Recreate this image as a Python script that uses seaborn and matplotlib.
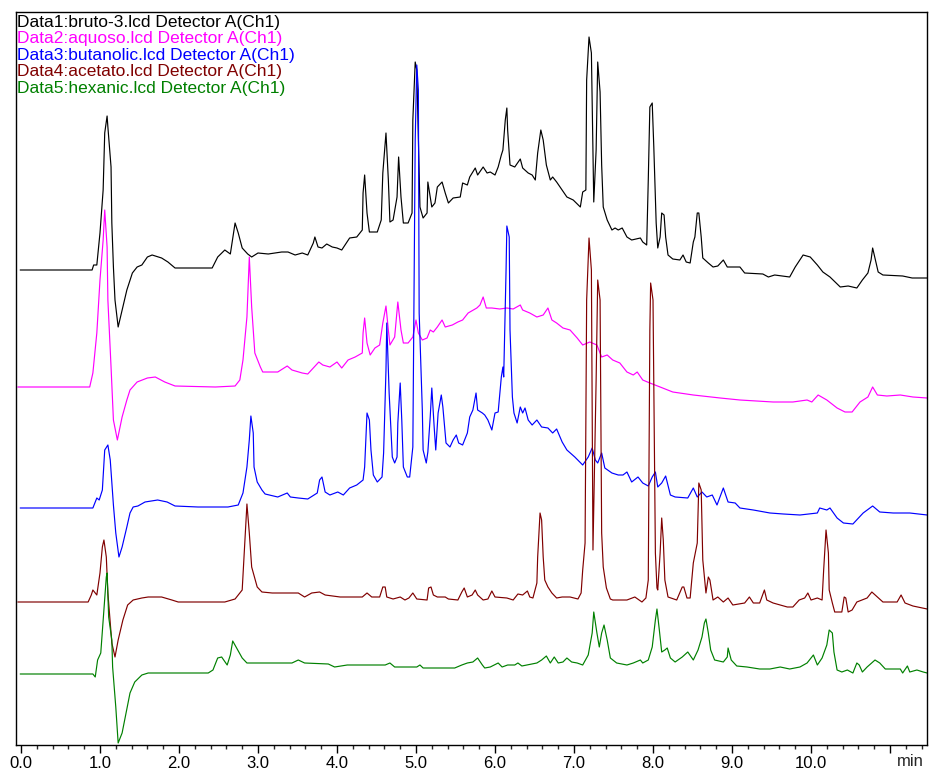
import matplotlib
matplotlib.use("Agg")
import matplotlib.pyplot as plt
import seaborn as sns
import pandas as pd

# ---- data: retention time (min) and detector response (arbitrary units, stacked) ----
t_bruto = [-0.01, 0.90, 0.92, 0.96, 1.00, 1.04, 1.06, 1.09, 1.10, 1.14, 1.15, 1.17, 1.19, 1.23, 1.28, 1.34, 1.41,
           1.47, 1.53, 1.60, 1.66, 1.78, 1.86, 1.95, 2.42, 2.49, 2.58, 2.65, 2.71, 2.75, 2.80, 2.87, 2.92, 3.00,
           3.13, 3.30, 3.38, 3.47, 3.56, 3.63, 3.70, 3.72, 3.76, 3.81, 3.87, 3.94, 4.00, 4.06, 4.16, 4.25, 4.32,
           4.33, 4.35, 4.38, 4.41, 4.51, 4.56, 4.58, 4.62, 4.65, 4.67, 4.71, 4.76, 4.78, 4.81, 4.84, 4.90, 4.95,
           4.96, 4.99, 5.01, 5.03, 5.05, 5.09, 5.14, 5.15, 5.18, 5.20, 5.24, 5.27, 5.33, 5.37, 5.41, 5.47, 5.56,
           5.59, 5.65, 5.68, 5.75, 5.78, 5.85, 5.90, 5.94, 6.00, 6.04, 6.08, 6.10, 6.13, 6.15, 6.16, 6.19, 6.25,
           6.32, 6.35, 6.42, 6.47, 6.51, 6.54, 6.58, 6.61, 6.65, 6.70, 6.73, 6.78, 6.85, 6.91, 6.99, 7.08, 7.11,
           7.15, 7.16, 7.19, 7.22, 7.24, 7.25, 7.28, 7.30, 7.33, 7.35, 7.37, 7.42, 7.48, 7.52, 7.56, 7.61, 7.67,
           7.73, 7.84, 7.87, 7.92, 7.94, 7.96, 7.99, 8.01, 8.04, 8.06, 8.09, 8.11, 8.14, 8.16, 8.19, 8.25, 8.34,
           8.38, 8.42, 8.47, 8.51, 8.53, 8.56, 8.58, 8.61, 8.63, 8.70, 8.76, 8.82, 8.89, 8.94, 9.10, 9.16, 9.39,
           9.46, 9.54, 9.73, 9.80, 9.90, 9.99, 10.08, 10.15, 10.24, 10.37, 10.47, 10.58, 10.65, 10.72, 10.76,
           10.78, 10.82, 10.85, 10.91, 11.16, 11.28, 11.47]
h_bruto = [475, 475, 480, 480, 512, 555, 612, 629, 618, 578, 522, 478, 445, 418, 435, 455, 472,
           478, 480, 488, 490, 487, 483, 477, 477, 488, 495, 491, 522, 512, 497, 491, 488, 492,
           491, 493, 493, 490, 492, 490, 502, 508, 498, 497, 501, 498, 497, 495, 507, 508, 515,
           552, 570, 532, 513, 513, 525, 572, 612, 565, 523, 525, 548, 588, 548, 522, 522, 532,
           625, 683, 675, 605, 538, 527, 532, 563, 548, 538, 542, 558, 563, 552, 542, 547, 548,
           562, 560, 568, 577, 570, 578, 572, 573, 570, 578, 590, 595, 625, 637, 615, 580, 578,
           586, 577, 572, 570, 565, 592, 615, 605, 580, 565, 568, 563, 555, 548, 545, 538, 553,
           555, 665, 708, 692, 595, 543, 595, 683, 653, 580, 538, 525, 515, 517, 515, 517, 508,
           505, 507, 503, 500, 565, 638, 642, 598, 522, 497, 508, 532, 530, 508, 490, 486, 485,
           490, 483, 482, 503, 508, 532, 532, 508, 487, 482, 478, 479, 485, 478, 478, 472, 471,
           468, 470, 468, 478, 490, 488, 480, 473, 468, 458, 459, 457, 465, 472, 485,
           497, 483, 473, 470, 469, 467, 467]

t_aquoso = [-0.04, 0.87, 0.91, 0.96, 1.00, 1.04, 1.06, 1.09, 1.10, 1.14, 1.17, 1.22, 1.28, 1.34, 1.38, 1.47, 1.60,
            1.70, 1.82, 1.95, 2.46, 2.71, 2.77, 2.81, 2.86, 2.89, 2.92, 2.96, 3.03, 3.06, 3.25, 3.37, 3.43, 3.56,
            3.63, 3.70, 3.77, 3.82, 3.91, 4.00, 4.06, 4.14, 4.23, 4.32, 4.33, 4.35, 4.38, 4.42, 4.48, 4.54, 4.58,
            4.62, 4.65, 4.67, 4.73, 4.77, 4.81, 4.84, 4.90, 4.96, 5.00, 5.03, 5.08, 5.14, 5.18, 5.22, 5.27, 5.33,
            5.37, 5.46, 5.53, 5.59, 5.66, 5.77, 5.81, 5.85, 5.89, 5.96, 6.06, 6.15, 6.23, 6.32, 6.35, 6.44, 6.53,
            6.61, 6.67, 6.72, 6.78, 6.86, 6.95, 7.04, 7.11, 7.20, 7.29, 7.35, 7.42, 7.49, 7.58, 7.67, 7.75, 7.80,
            7.87, 7.96, 8.09, 8.25, 8.51, 8.85, 9.10, 9.52, 9.77, 9.95, 10.01, 10.09, 10.20, 10.33, 10.43, 10.52,
            10.62, 10.72, 10.78, 10.84, 10.96, 11.13, 11.29, 11.47]
h_aquoso = [358, 358, 372, 412, 465, 505, 535, 498, 445, 378, 325, 305, 328, 345, 355, 363, 367,
            368, 363, 359, 358, 359, 365, 385, 428, 488, 438, 392, 378, 373, 373, 379, 375, 372,
            371, 377, 383, 380, 378, 383, 377, 385, 388, 392, 412, 427, 402, 390, 397, 400, 422,
            439, 415, 400, 408, 443, 415, 402, 402, 408, 425, 412, 405, 407, 415, 413, 418, 425,
            418, 420, 423, 425, 432, 437, 440, 448, 437, 437, 436, 437, 436, 440, 435, 432, 428,
            430, 437, 425, 422, 417, 415, 407, 400, 403, 400, 388, 390, 385, 382, 373, 370, 373,
            365, 362, 358, 353, 350, 347, 345, 343, 343, 345, 343, 350, 345, 337, 333, 333,
            343, 348, 358, 350, 349, 350, 348, 347]

t_butanolic = [-0.01, 0.91, 0.96, 0.99, 1.03, 1.06, 1.10, 1.13, 1.15, 1.17, 1.20, 1.24, 1.28, 1.34, 1.38, 1.42, 1.48,
               1.57, 1.73, 1.85, 1.95, 2.24, 2.62, 2.75, 2.81, 2.86, 2.89, 2.91, 2.94, 2.95, 2.99, 3.05, 3.09,
               3.25, 3.37, 3.41, 3.51, 3.63, 3.75, 3.78, 3.81, 3.85, 3.91, 4.01, 4.08, 4.16, 4.25, 4.33, 4.35,
               4.38, 4.41, 4.43, 4.46, 4.51, 4.57, 4.59, 4.62, 4.63, 4.66, 4.70, 4.73, 4.76, 4.77, 4.80, 4.82,
               4.84, 4.89, 4.92, 4.96, 4.99, 5.01, 5.03, 5.04, 5.08, 5.09, 5.13, 5.15, 5.18, 5.20, 5.23, 5.25,
               5.28, 5.32, 5.34, 5.38, 5.43, 5.47, 5.51, 5.54, 5.59, 5.65, 5.68, 5.72, 5.76, 5.78, 5.84, 5.87,
               5.91, 5.96, 6.00, 6.04, 6.08, 6.10, 6.11, 6.14, 6.15, 6.18, 6.19, 6.22, 6.24, 6.28, 6.32, 6.35,
               6.38, 6.42, 6.47, 6.53, 6.59, 6.67, 6.73, 6.78, 6.85, 6.91, 7.01, 7.11, 7.18, 7.23, 7.27, 7.30,
               7.35, 7.39, 7.48, 7.56, 7.62, 7.67, 7.73, 7.81, 7.87, 7.94, 7.99, 8.03, 8.06, 8.11, 8.16, 8.22,
               8.28, 8.44, 8.51, 8.56, 8.62, 8.68, 8.75, 8.81, 8.89, 8.95, 9.04, 9.10, 9.27, 9.48, 9.65, 9.86,
               10.08, 10.11, 10.20, 10.24, 10.33, 10.41, 10.53, 10.66, 10.78, 10.87, 11.04, 11.25, 11.47]
h_butanolic = [237, 237, 247, 245, 255, 295, 300, 285, 262, 240, 212, 188, 198, 218, 232, 238, 239,
               243, 245, 243, 239, 238, 238, 240, 252, 278, 305, 329, 312, 278, 263, 255, 251,
               248, 252, 248, 247, 246, 252, 265, 268, 253, 250, 253, 250, 257, 260, 265, 278,
               332, 325, 295, 270, 263, 268, 292, 375, 422, 352, 288, 282, 288, 322, 362, 325,
               278, 268, 268, 298, 605, 680, 655, 432, 335, 295, 282, 293, 328, 357, 318, 295,
               332, 350, 338, 302, 298, 305, 310, 302, 300, 312, 328, 335, 352, 335, 332, 330,
               325, 315, 332, 333, 368, 378, 368, 475, 519, 508, 415, 348, 332, 322, 338, 332,
               337, 325, 320, 325, 318, 317, 312, 316, 303, 295, 288, 280, 288, 297, 285, 282,
               292, 277, 272, 270, 270, 273, 263, 268, 262, 259, 268, 273, 258, 262, 269, 250,
               248, 247, 257, 248, 253, 248, 250, 240, 257, 243, 242, 237, 235, 232, 231, 230,
               232, 237, 235, 237, 227, 222, 221, 232, 239, 233, 232, 232, 230]

t_acetato = [-0.04, 0.85, 0.89, 0.91, 0.96, 1.00, 1.03, 1.05, 1.08, 1.10, 1.11, 1.15, 1.19, 1.23, 1.29, 1.35, 1.42,
             1.53, 1.61, 1.78, 1.91, 1.99, 2.58, 2.71, 2.80, 2.84, 2.86, 2.89, 2.92, 2.99, 3.05, 3.18, 3.51,
             3.59, 3.68, 3.78, 3.85, 4.04, 4.32, 4.38, 4.44, 4.54, 4.58, 4.61, 4.63, 4.71, 4.80, 4.86, 4.91,
             4.96, 5.01, 5.14, 5.16, 5.19, 5.22, 5.27, 5.37, 5.41, 5.53, 5.58, 5.61, 5.65, 5.71, 5.75, 5.78,
             5.85, 5.91, 5.96, 6.00, 6.15, 6.23, 6.29, 6.35, 6.41, 6.44, 6.48, 6.53, 6.54, 6.57, 6.59, 6.61,
             6.63, 6.67, 6.72, 6.78, 6.85, 6.95, 7.05, 7.09, 7.11, 7.14, 7.16, 7.19, 7.22, 7.24, 7.28, 7.30,
             7.33, 7.35, 7.37, 7.41, 7.46, 7.49, 7.67, 7.77, 7.86, 7.91, 7.94, 7.96, 7.97, 8.00, 8.03, 8.05,
             8.06, 8.09, 8.11, 8.13, 8.15, 8.19, 8.30, 8.37, 8.39, 8.43, 8.47, 8.51, 8.56, 8.58, 8.61, 8.63,
             8.67, 8.70, 8.72, 8.76, 8.82, 8.89, 8.95, 9.01, 9.16, 9.22, 9.27, 9.35, 9.41, 9.44, 9.52, 9.70,
             9.77, 9.85, 9.92, 9.96, 10.00, 10.08, 10.14, 10.16, 10.19, 10.22, 10.23, 10.27, 10.30, 10.39,
             10.42, 10.44, 10.47, 10.52, 10.58, 10.71, 10.77, 10.84, 10.91, 11.09, 11.14, 11.19, 11.29, 11.47]
h_acetato = [143, 143, 150, 155, 150, 172, 198, 205, 188, 152, 142, 102, 88, 105, 125, 140, 145,
             147, 148, 148, 145, 143, 143, 146, 155, 212, 241, 212, 178, 158, 153, 152, 152,
             148, 152, 153, 150, 148, 148, 152, 148, 148, 158, 158, 148, 146, 148, 145, 147,
             152, 146, 145, 157, 158, 150, 148, 148, 146, 145, 153, 157, 148, 150, 155, 150,
             145, 146, 154, 148, 147, 145, 151, 150, 154, 148, 147, 162, 188, 232, 225, 188,
             165, 158, 152, 147, 148, 148, 146, 152, 175, 202, 445, 507, 475, 195, 365, 465,
             445, 212, 178, 157, 146, 145, 145, 148, 143, 147, 165, 415, 462, 445, 192, 157,
             155, 192, 227, 205, 165, 148, 145, 158, 158, 147, 147, 182, 202, 262, 255, 185,
             152, 168, 165, 145, 148, 143, 147, 140, 142, 148, 142, 142, 155, 145, 142, 138,
             138, 145, 147, 152, 145, 147, 145, 175, 215, 192, 155, 142, 133, 133,
             148, 147, 133, 135, 143, 147, 153, 148, 143, 143, 150, 142, 139, 136]

t_hexanic = [-0.01, 0.91, 0.94, 0.97, 1.01, 1.04, 1.08, 1.09, 1.11, 1.15, 1.16, 1.20, 1.23, 1.28, 1.33, 1.38, 1.44,
             1.53, 1.61, 2.37, 2.43, 2.49, 2.54, 2.61, 2.65, 2.68, 2.73, 2.80, 2.86, 3.43, 3.51, 3.59, 3.89,
             3.97, 4.13, 4.61, 4.67, 4.73, 5.01, 5.05, 5.09, 5.34, 5.49, 5.58, 5.65, 5.72, 5.78, 5.84, 5.87,
             5.94, 6.04, 6.09, 6.16, 6.25, 6.29, 6.34, 6.53, 6.59, 6.65, 6.70, 6.75, 6.80, 6.86, 6.91, 6.97,
             7.04, 7.11, 7.18, 7.23, 7.25, 7.29, 7.32, 7.35, 7.38, 7.42, 7.46, 7.54, 7.67, 7.75, 7.84, 7.87,
             7.94, 7.99, 8.03, 8.05, 8.08, 8.11, 8.15, 8.18, 8.22, 8.28, 8.37, 8.44, 8.51, 8.57, 8.62, 8.65,
             8.67, 8.70, 8.73, 8.78, 8.89, 8.94, 8.95, 8.99, 9.06, 9.19, 9.35, 9.48, 9.61, 9.73, 9.86, 9.95,
             10.03, 10.08, 10.14, 10.20, 10.23, 10.27, 10.29, 10.33, 10.39, 10.46, 10.53, 10.58, 10.61, 10.65,
             10.71, 10.81, 10.87, 10.94, 11.13, 11.16, 11.22, 11.25, 11.34, 11.42, 11.47]
h_hexanic = [71, 71, 68, 85, 92, 125, 168, 172, 128, 105, 78, 38, 2, 12, 32, 52, 63,
             70, 72, 72, 75, 87, 88, 80, 90, 104, 97, 87, 82, 82, 85, 82, 81,
             78, 80, 80, 82, 78, 78, 80, 77, 77, 77, 80, 82, 83, 87, 80, 77,
             78, 82, 78, 80, 80, 82, 79, 82, 85, 89, 82, 88, 82, 83, 87, 83,
             82, 80, 90, 112, 133, 112, 98, 112, 120, 105, 87, 82, 80, 82, 85, 82,
             85, 98, 125, 136, 115, 93, 95, 97, 87, 83, 88, 93, 85, 95, 108, 122,
             126, 112, 95, 85, 83, 88, 97, 85, 79, 78, 76, 76, 78, 76, 78, 82,
             90, 80, 87, 100, 115, 112, 93, 75, 73, 75, 72, 82, 80, 73,
             78, 85, 82, 76, 76, 72, 79, 73, 75, 73, 72]

labels = ["Data1:bruto-3.lcd Detector A(Ch1)",
          "Data2:aquoso.lcd Detector A(Ch1)",
          "Data3:butanolic.lcd Detector A(Ch1)",
          "Data4:acetato.lcd Detector A(Ch1)",
          "Data5:hexanic.lcd Detector A(Ch1)"]
colors = ["#000000", "#FF00FF", "#0000FF", "#800000", "#008000"]
tick_labels = ["0.0", "1.0", "2.0", "3.0", "4.0", "5.0", "6.0", "7.0", "8.0", "9.0", "10.0", ""]

series = [(t_bruto, h_bruto), (t_aquoso, h_aquoso), (t_butanolic, h_butanolic),
          (t_acetato, h_acetato), (t_hexanic, h_hexanic)]

sns.set_style("white")
plt.rcParams["font.family"] = ["Liberation Sans", "DejaVu Sans"]

fig = plt.figure(figsize=(9.33, 7.71), dpi=100)
ax = fig.add_axes([16 / 933, 26 / 771, 911 / 933, 733 / 771])

for (t, h), lab, col in zip(series, labels, colors):
    df = pd.DataFrame({"time": t, "signal": h})
    sns.lineplot(data=df, x="time", y="signal", estimator=None, sort=False,
                 color=col, linewidth=0.85, ax=ax, legend=False)

ax.set_xlim(-0.063, 11.468)
ax.set_ylim(0, 733)
ax.set_xticks(range(12))
ax.set_xticklabels(tick_labels)
ax.set_xticks([i * 0.2 for i in range(58) if i % 5 != 0], minor=True)
ax.set_yticks([])
ax.tick_params(axis="x", which="major", direction="out", length=6, width=1, pad=2,
               labelsize=12, colors="black", bottom=True)
ax.tick_params(axis="x", which="minor", direction="out", length=3, width=1, bottom=True)
ax.set_xlabel("")
ax.set_ylabel("")
for s in ax.spines.values():
    s.set_visible(True)
    s.set_color("black")
    s.set_linewidth(1.0)

ax.text(0.997, -0.012, "min", transform=ax.transAxes, ha="right", va="top", fontsize=12)

for i, (lab, col) in enumerate(zip(labels, colors)):
    yc = 22 + i * 16.6
    ax.text(0.001, 1 - (yc - 12) / 733, lab, transform=ax.transAxes, ha="left", va="center",
            color=col, fontsize=12.5)

fig.savefig("out.png", dpi=100)
